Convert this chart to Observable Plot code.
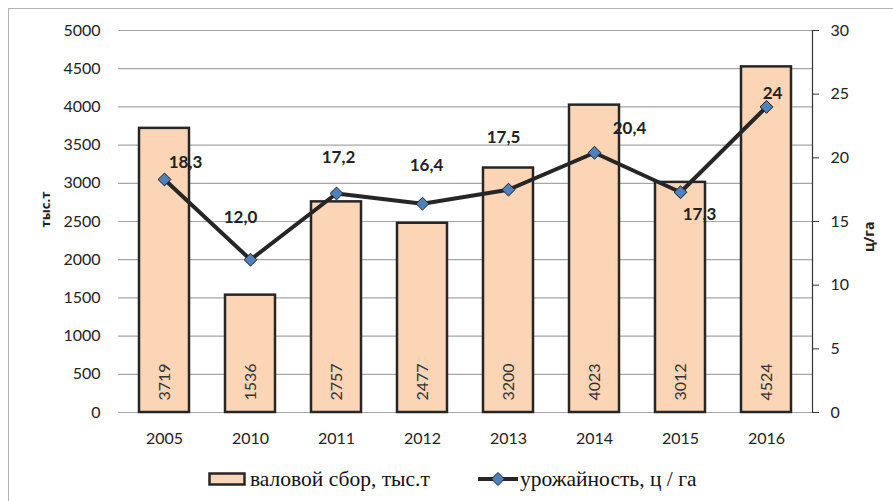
<!DOCTYPE html>
<html>
<head>
<meta charset="utf-8">
<script src="https://cdn.jsdelivr.net/npm/d3@7"></script>
<script src="https://cdn.jsdelivr.net/npm/@observablehq/plot@0.6"></script>
<style>
  body { margin: 0; background: #fff; }
  #wrap { position: relative; width: 893px; height: 501px; overflow: hidden; background: #fff; }
  #chart { position: absolute; left: 0; top: 0; }
  #border { position: absolute; left: 8px; top: 8px; width: 1000px; height: 1000px;
            border-left: 1.5px solid #b4b4b4; border-top: 1.5px solid #b4b4b4; pointer-events: none; }
  .leg { position: absolute; top: 469px; height: 20px; display: flex; align-items: center;
         font-family: "Liberation Serif", "DejaVu Serif", serif; font-size: 21.5px; color: #111; white-space: nowrap; }
  .leg svg { display: block; }
</style>
</head>
<body>
<div id="wrap">
  <div id="chart"></div>
  <div id="border"></div>
  <div class="leg" style="left:208px">
    <svg width="38" height="14"><rect x="1.5" y="1.5" width="35" height="11" fill="#FBD5B5" stroke="#262626" stroke-width="2.5"/></svg>
    <span style="margin-left:4px">валовой сбор, тыс.т</span>
  </div>
  <div class="leg" style="left:478px">
    <svg width="40" height="16"><line x1="0" y1="8" x2="40" y2="8" stroke="#262626" stroke-width="4"/><path d="M20,1.5 L26.5,8 L20,14.5 L13.5,8 Z" fill="#4F81BD" stroke="#1f1f1f" stroke-width="1"/></svg>
    <span style="margin-left:2px">урожайность, ц / га</span>
  </div>
</div>
<script>
// ---- data ----
const years = ["2005", "2010", "2011", "2012", "2013", "2014", "2015", "2016"];
const harvest = [3719, 1536, 2757, 2477, 3200, 4023, 3012, 4524];           // валовой сбор, тыс.т
const yieldValues = [18.3, 12.0, 17.2, 16.4, 17.5, 20.4, 17.3, 24];          // урожайность, ц/га
const yieldLabels = ["18,3", "12,0", "17,2", "16,4", "17,5", "20,4", "17,3", "24"];
const leftTicks = [0, 500, 1000, 1500, 2000, 2500, 3000, 3500, 4000, 4500, 5000];
const rightTicks = [0, 5, 10, 15, 20, 25, 30];

// ---- drawing ----
const leftMax = 5000, rightMax = 30;
const k = leftMax / rightMax;   // maps right-axis units onto the left scale

const data = years.map((year, i) => ({
  year, harvest: harvest[i], yieldV: yieldValues[i], yieldLabel: yieldLabels[i]
}));

// label placement (screen offsets, styling only)
const labelDx = [21, -10, 2, 4, -5, 35, 19, 6];
const labelDy = [-17, -42, -36, -38, -52, -24, 22, -13];

const font = "Lato, 'Open Sans', sans-serif";
const ink = "#222";

const marks = [
  Plot.gridY(leftTicks, {stroke: "#a6a6a6", strokeOpacity: 1, strokeWidth: 1.2}),
  Plot.barY(data, {x: "year", y: "harvest", fill: "#FBD5B5", stroke: "#262626", strokeWidth: 2.5}),
  Plot.text(data, {x: "year", y: 0, text: d => String(d.harvest), rotate: -90, textAnchor: "start",
                   dy: -12, fontSize: 16, fill: "#333", fontFamily: font}),
  Plot.line(data, {x: "year", y: d => d.yieldV * k, stroke: "#262626", strokeWidth: 4}),
  Plot.dot(data, {x: "year", y: d => d.yieldV * k, symbol: "diamond2", r: 5.8,
                  fill: "#4F81BD", stroke: "#1f1f1f", strokeWidth: 1}),
  Plot.axisY(leftTicks, {anchor: "left", tickSize: 0, tickPadding: 18, tickFormat: d => String(d),
                         fontSize: 16, fontFamily: font, fill: ink, label: null}),
  Plot.axisY(rightTicks.map(v => v * k), {anchor: "right", tickSize: 6, tickPadding: 12,
                         tickFormat: d => String(Math.round(d / k)), stroke: "#333",
                         fontSize: 16, fontFamily: font, fill: ink, label: null}),
  Plot.frame({anchor: "right", stroke: "#333", strokeWidth: 1.2}),
  Plot.axisX({tickSize: 0, tickPadding: 20, fontSize: 16, fontFamily: font, fill: ink, label: null}),
  Plot.text(["тыс.т"], {frameAnchor: "left", dx: -73, dy: 6, rotate: -90, fontWeight: "bold",
                        fontSize: 13, fontFamily: "'Open Sans', sans-serif", fill: ink}),
  Plot.text(["ц/га"], {frameAnchor: "right", dx: 57, dy: 0, rotate: -90, fontWeight: "bold",
                       fontSize: 14, fontFamily: "'Open Sans', sans-serif", fill: ink})
];

data.forEach((d, i) => {
  marks.push(Plot.text([d], {x: "year", y: dd => dd.yieldV * k, text: "yieldLabel",
    dx: labelDx[i], dy: labelDy[i], fontWeight: "bold", fontSize: 17, fontFamily: font, fill: ink}));
});

const chart = Plot.plot({
  width: 893,
  height: 455,
  marginTop: 30,
  marginBottom: 43,
  marginLeft: 118,
  marginRight: 81,
  style: {background: "transparent", fontFamily: font, color: ink},
  x: {domain: years, paddingInner: 0.42, paddingOuter: 0.21, label: null},
  y: {domain: [0, leftMax], label: null},
  marks
});
document.getElementById("chart").appendChild(chart);
</script>
</body>
</html>
